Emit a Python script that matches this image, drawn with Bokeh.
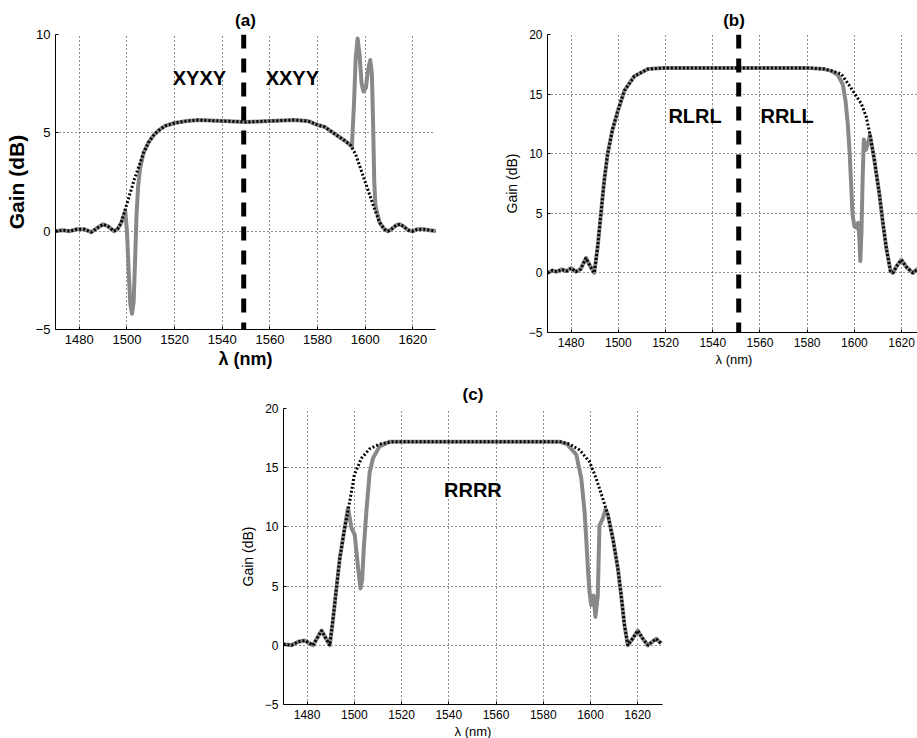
from bokeh.plotting import figure
from bokeh.layouts import column, row, Spacer
from bokeh.models import Span, Label, FixedTicker
from bokeh.embed import file_html
from bokeh.resources import INLINE

FONT = "Liberation Sans"

x_ticks = [1480, 1500, 1520, 1540, 1560, 1580, 1600, 1620]
y_ticks_a = [-5, 0, 5, 10]
y_ticks_bc = [-5, 0, 5, 10, 15, 20]

# ---------------- panel (a) ----------------
lam_a_theory = [1470, 1473, 1476, 1479, 1482, 1485, 1488, 1490, 1492, 1494.5, 1496, 1497.5,
                1499, 1501, 1503, 1505, 1507, 1509, 1511, 1513, 1516, 1520, 1525, 1530, 1540,
                1550, 1560, 1570, 1576, 1580, 1583, 1586, 1589, 1592, 1594, 1596, 1598, 1600,
                1602, 1604, 1606, 1608, 1609.5, 1611, 1613, 1614.5, 1616, 1618, 1620, 1622,
                1624.5, 1627, 1630]
gain_a_theory = [0.0, 0.05, 0.0, 0.1, 0.1, -0.05, 0.2, 0.35, 0.25, 0.0, 0.1, 0.4,
                 1.0, 1.8, 2.6, 3.3, 4.0, 4.5, 4.85, 5.1, 5.35, 5.5, 5.6, 5.65, 5.6,
                 5.55, 5.6, 5.65, 5.6, 5.4, 5.3, 5.05, 4.8, 4.55, 4.35, 3.9, 3.2, 2.5,
                 1.8, 1.1, 0.45, 0.1, 0.0, 0.1, 0.3, 0.35, 0.25, 0.05, 0.0, 0.1,
                 0.1, 0.05, 0.0]
lam_a_meas = [1470, 1473, 1476, 1479, 1482, 1485, 1488, 1490, 1492, 1494.5, 1496, 1497.5,
              1499.3, 1500, 1500.7, 1501.4, 1502.1, 1502.8, 1503.4, 1504, 1504.7, 1505.5,
              1507, 1509, 1511, 1513, 1516, 1520, 1525, 1530, 1540, 1550, 1560, 1570, 1576,
              1580, 1583, 1586, 1589, 1592, 1594.4, 1595.3, 1596, 1596.8, 1597.6, 1598.5,
              1599.3, 1600.3, 1601.2, 1602.1, 1602.8, 1603.3, 1603.8, 1604.3, 1606, 1608,
              1609.5, 1611, 1613, 1614.5, 1616, 1618, 1620, 1622, 1624.5, 1627, 1630]
gain_a_meas = [0.0, 0.05, 0.0, 0.1, 0.1, -0.05, 0.2, 0.35, 0.25, 0.0, 0.1, 0.4,
               1.0, 0.0, -2.0, -3.7, -4.2, -3.6, -1.5, 0.8, 2.3, 3.2,
               4.0, 4.5, 4.85, 5.1, 5.35, 5.5, 5.6, 5.65, 5.6, 5.55, 5.6, 5.65, 5.6,
               5.4, 5.3, 5.05, 4.8, 4.55, 4.3, 6.5, 8.8, 9.8, 9.0, 7.5,
               7.1, 7.3, 8.2, 8.7, 8.0, 5.5, 2.5, 1.3, 0.45, 0.1,
               0.0, 0.1, 0.3, 0.35, 0.25, 0.05, 0.0, 0.1, 0.1, 0.05, 0.0]
divider_a = 1549
labels_a = ["XYXY", "XXYY"]

# ---------------- panel (b) ----------------
lam_b_theory = [1470, 1472, 1474, 1476, 1478, 1480, 1482, 1484, 1486.3, 1488, 1489.8, 1491.2,
                1492.6, 1494, 1495.4, 1497.5, 1499.8, 1502.6, 1506.8, 1512.5, 1519.5, 1530,
                1540, 1550, 1560, 1570, 1580, 1587.3, 1590.2, 1594.4, 1598.6, 1602.9, 1605,
                1606.6, 1608.5, 1610.6, 1612, 1613.5, 1615.3, 1616.3, 1618, 1619.9, 1622,
                1624.8, 1628]
gain_b_theory = [0.0, 0.2, 0.1, 0.3, 0.15, 0.4, 0.1, 0.3, 1.25, 0.6, 0.0, 2.1,
                 4.9, 7.7, 9.9, 12.0, 13.6, 15.3, 16.5, 17.1, 17.2, 17.2,
                 17.2, 17.2, 17.2, 17.2, 17.2, 17.1, 16.95, 16.7, 15.5, 14.2, 13.1,
                 11.6, 9.4, 6.6, 4.3, 2.1, 0.15, 0.0, 0.6, 1.1, 0.5,
                 0.0, 0.55]
lam_b_meas = [1470, 1472, 1474, 1476, 1478, 1480, 1482, 1484, 1486.3, 1488, 1489.8, 1491.2,
              1492.6, 1494, 1495.4, 1497.5, 1499.8, 1502.6, 1506.8, 1512.5, 1519.5, 1530,
              1540, 1550, 1560, 1570, 1580, 1587.3, 1590.2, 1593, 1595.1, 1596.2, 1597.2,
              1598, 1598.6, 1599.2, 1600, 1600.8, 1601.6, 1602.1, 1602.5, 1603, 1603.5,
              1604, 1604.8, 1605.7, 1606.6, 1608.5, 1610.6, 1612, 1613.5, 1615.3, 1616.3,
              1618, 1619.9, 1622, 1624.8, 1628]
gain_b_meas = [0.0, 0.2, 0.1, 0.3, 0.15, 0.4, 0.1, 0.3, 1.25, 0.6, 0.0, 2.1,
               4.9, 7.7, 9.9, 12.0, 13.6, 15.3, 16.5, 17.1, 17.2, 17.2,
               17.2, 17.2, 17.2, 17.2, 17.2, 17.1, 16.95, 16.6, 15.8, 14.5, 12.5,
               10.0, 7.5, 4.9, 3.9, 3.8, 4.2, 3.0, 1.0, 3.5, 8.0,
               11.2, 10.3, 10.8, 11.6, 9.4, 6.6, 4.3, 2.1, 0.15, 0.0,
               0.6, 1.1, 0.5, 0.0, 0.55]
divider_b = 1551
labels_b = ["RLRL", "RRLL"]

# ---------------- panel (c) ----------------
lam_c_theory = [1470, 1473.4, 1476.2, 1479, 1482.5, 1486.1, 1489.6, 1491, 1492.4, 1493.8,
                1495.9, 1498, 1500, 1503, 1506.5, 1510.7, 1516.4, 1530, 1550, 1570, 1586.9,
                1591.1, 1595.4, 1599.6, 1602.4, 1605.2, 1607.4, 1609.5, 1611.6, 1613,
                1614.4, 1615.8, 1618, 1620, 1622, 1624.3, 1627.8, 1630]
gain_c_theory = [0.1, 0.0, 0.3, 0.4, 0.0, 1.25, 0.0, 2.25, 4.8, 7.3,
                 9.9, 12.1, 14.4, 15.8, 16.6, 17.0, 17.2, 17.2, 17.2, 17.2, 17.2,
                 17.0, 16.5, 15.5, 14.1, 12.4, 11.0, 9.0, 6.5, 4.2,
                 1.7, 0.0, 0.6, 1.25, 0.6, 0.0, 0.55, 0.15]
lam_c_meas = [1470, 1473.4, 1476.2, 1479, 1482.5, 1486.1, 1489.6, 1491, 1492.4, 1493.8,
              1495.9, 1497.3, 1498.8, 1500.2, 1501.6, 1502.6, 1503.3, 1504, 1505.1, 1506.5,
              1507.9, 1510.7, 1515, 1530, 1550, 1570, 1586.9, 1590, 1594, 1596.1, 1597.5,
              1598.2, 1598.9, 1599.6, 1600.3, 1601.3, 1602.1, 1603.1, 1603.8, 1605.2,
              1606.4, 1607.4, 1609.5, 1611.6, 1613, 1614.4, 1615.8, 1618, 1620, 1622,
              1624.3, 1627.8, 1630]
gain_c_meas = [0.1, 0.0, 0.3, 0.4, 0.0, 1.25, 0.0, 2.25, 4.8, 7.3,
               9.9, 11.6, 9.9, 9.3, 6.5, 4.8, 5.5, 8.2, 11.3, 14.6,
               15.8, 16.8, 17.2, 17.2, 17.2, 17.2, 17.2, 17.0, 16.1, 14.1, 11.3,
               9.0, 6.5, 4.5, 3.4, 4.2, 2.4, 4.2, 10.1, 10.7,
               11.5, 11.0, 9.0, 6.5, 4.2, 1.7, 0.0, 0.6, 1.25, 0.6,
               0.0, 0.55, 0.15]
labels_c = ["RRRR"]


def make_panel(title, y_range, y_ticks, x_end, frame_w, frame_h, borders,
               lam_m, g_m, lam_t, g_t, big):
    left, right, top, bottom = borders
    p = figure(frame_width=frame_w, frame_height=frame_h,
               x_range=(1470, x_end), y_range=y_range,
               output_backend="svg", toolbar_location=None, title=title,
               min_border_left=left, min_border_right=right,
               min_border_top=top, min_border_bottom=bottom,
               background_fill_color="white", border_fill_color="white")
    p.outline_line_color = None
    p.title.align = "center"
    p.title.text_font = FONT
    p.title.text_font_style = "bold"
    p.title.text_font_size = "17px"
    p.title.text_color = "black"

    p.xaxis.ticker = FixedTicker(ticks=x_ticks)
    p.yaxis.ticker = FixedTicker(ticks=y_ticks)
    for ax in (p.xaxis[0], p.yaxis[0]):
        ax.axis_line_color = "black"
        ax.axis_line_width = 1
        ax.major_tick_in = 3
        ax.major_tick_out = 0
        ax.minor_tick_line_color = None
        ax.major_label_text_font = FONT
        ax.major_label_text_color = "black"
        ax.major_label_text_font_size = "13px" if big else "12px"
        ax.axis_label_text_font = FONT
        ax.axis_label_text_color = "black"
        ax.axis_label_text_font_style = "bold" if big else "normal"
        ax.major_label_standoff = 5
    p.xaxis.axis_label = "λ (nm)"
    p.yaxis.axis_label = "Gain (dB)"
    p.xaxis.axis_label_text_font_size = "18px" if big else "13px"
    p.yaxis.axis_label_text_font_size = "21px" if big else "14px"
    p.xaxis.axis_label_standoff = 2
    p.yaxis.axis_label_standoff = 5 if big else 6

    for g in (p.xgrid[0], p.ygrid[0]):
        g.grid_line_color = "#222222"
        g.grid_line_dash = "1 3"
        g.grid_line_width = 1
    p.xgrid.ticker = FixedTicker(ticks=x_ticks)
    p.ygrid.ticker = FixedTicker(ticks=y_ticks)

    p.line(lam_m, g_m, line_color="#888888", line_width=4, line_join="round")
    p.line(lam_t, g_t, line_color="black", line_width=3, line_dash="2 2")
    return p


def add_text(p, x, y, txt):
    p.add_layout(Label(x=x, y=y, text=txt, text_align="center", text_baseline="middle",
                       text_font=FONT, text_font_style="bold", text_font_size="20px",
                       text_color="black"))


pa = make_panel("(a)", (-5, 10), y_ticks_a, 1629.5, 380, 295, (55, 65, 34, 41),
                lam_a_meas, gain_a_meas, lam_a_theory, gain_a_theory, True)
pa.add_layout(Span(location=divider_a, dimension="height", line_color="black",
                   line_width=5, line_dash="14 10"))
add_text(pa, 1530.4, 7.8, labels_a[0])
add_text(pa, 1569.4, 7.8, labels_a[1])

pb = make_panel("(b)", (-5, 20), y_ticks_bc, 1628, 373, 298, (44, 0, 34, 38),
                lam_b_meas, gain_b_meas, lam_b_theory, gain_b_theory, False)
pb.add_layout(Span(location=divider_b, dimension="height", line_color="black",
                   line_width=5, line_dash="14 10"))
add_text(pb, 1532.5, 13.2, labels_b[0])
add_text(pb, 1571.5, 13.2, labels_b[1])

pc = make_panel("(c)", (-5, 20), y_ticks_bc, 1630.5, 379, 296, (45, 20, 37, 35),
                lam_c_meas, gain_c_meas, lam_c_theory, gain_c_theory, False)
add_text(pc, 1550.2, 13.15, labels_c[0])

layout = column(row(pa, pb), row(Spacer(width=236, height=10), pc))

with open("out.html", "w") as f:
    f.write(file_html(layout, INLINE))
